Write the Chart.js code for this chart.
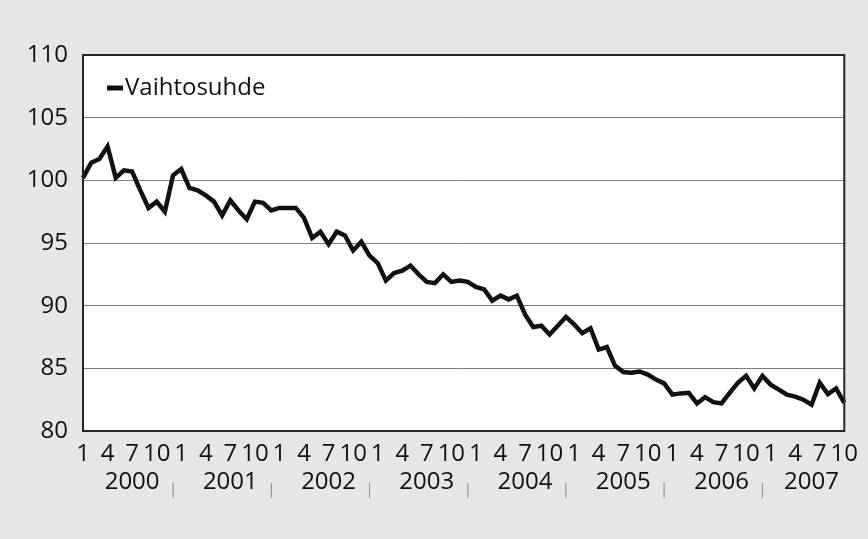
<!DOCTYPE html>
<html>
<head>
<meta charset="utf-8">
<script src="https://cdn.jsdelivr.net/npm/chart.js@4.4.1/dist/chart.umd.min.js"></script>
<style>
  html, body { margin: 0; padding: 0; background: #e6e6e6; }
  #wrap { width: 868px; height: 539px; position: relative; }
</style>
</head>
<body>
<div id="wrap"><canvas id="c" width="868" height="539"></canvas></div>
<script>
// ---- Data (monthly, Jan 2000 .. Oct 2007) ----
const years = [2000, 2001, 2002, 2003, 2004, 2005, 2006, 2007];
const monthTickLabels = { 0: '1', 3: '4', 6: '7', 9: '10' };
const seriesName = 'Vaihtosuhde';
const vaihtosuhde = [
  100.2, 101.4, 101.7, 102.7, 100.2, 100.8, 100.7, 99.2, 97.8, 98.3, 97.5, 100.4,   // 2000
  100.9, 99.4, 99.2, 98.8, 98.3, 97.2, 98.4, 97.6, 96.9, 98.3, 98.2, 97.6,          // 2001
  97.8, 97.8, 97.8, 97.0, 95.4, 95.9, 94.9, 95.9, 95.6, 94.4, 95.1, 94.0,           // 2002
  93.4, 92.0, 92.6, 92.8, 93.2, 92.5, 91.9, 91.8, 92.5, 91.9, 92.0, 91.9,           // 2003
  91.5, 91.3, 90.4, 90.8, 90.5, 90.8, 89.3, 88.3, 88.4, 87.7, 88.4, 89.1,           // 2004
  88.5, 87.8, 88.2, 86.5, 86.7, 85.2, 84.7, 84.65, 84.75, 84.5, 84.1, 83.8,         // 2005
  82.9, 83.0, 83.05, 82.2, 82.7, 82.3, 82.2, 83.05, 83.85, 84.4, 83.4, 84.4,        // 2006
  83.7, 83.3, 82.9, 82.75, 82.5, 82.1, 83.85, 82.95, 83.4, 82.25                    // 2007 (Jan-Oct)
];
const yMin = 80, yMax = 110, yStep = 5;

// category labels "YYYY-M"
const labels = [];
years.forEach(y => { for (let m = 1; m <= 12; m++) labels.push(y + '-' + m); });
labels.length = vaihtosuhde.length;

const FONT = "'Open Sans', 'Noto Sans', 'DejaVu Sans', sans-serif";
const WEIGHT = 500;

// year label: under July for full years, middle of available months for the partial last year
function yearLabelFor(idx) {
  const yi = Math.floor(idx / 12), m = idx % 12;
  const monthsInYear = Math.min(12, labels.length - yi * 12);
  const labelMonth = monthsInYear === 12 ? 6 : Math.round((monthsInYear - 1) / 2);
  if (m === labelMonth) return String(years[yi]);
  if (m === 11 && monthsInYear === 12) return '|';
  return '';
}

const plotFrame = {
  id: 'plotFrame',
  beforeDraw(chart) {
    const { ctx, chartArea: a } = chart;
    ctx.save();
    ctx.fillStyle = '#ffffff';
    ctx.fillRect(a.left, a.top, a.right - a.left, a.bottom - a.top);
    ctx.restore();
  },
  afterDatasetsDraw(chart) {
    const { ctx, chartArea: a } = chart;
    ctx.save();
    ctx.strokeStyle = '#262626';
    ctx.lineWidth = 2;
    ctx.strokeRect(a.left, a.top, a.right - a.left, a.bottom - a.top);
    ctx.restore();
  }
};

// legend drawn inside the plot area, top-left
const innerLegend = {
  id: 'innerLegend',
  afterDraw(chart) {
    const { ctx, chartArea: a } = chart;
    const ds = chart.data.datasets[0];
    const cy = a.top + 33;
    const x0 = a.left + 24;
    ctx.save();
    ctx.strokeStyle = ds.borderColor;
    ctx.lineWidth = 5;
    ctx.beginPath();
    ctx.moveTo(x0, cy);
    ctx.lineTo(x0 + 16, cy);
    ctx.stroke();
    ctx.fillStyle = '#111';
    ctx.font = WEIGHT + ' 24px ' + FONT;
    ctx.textAlign = 'left';
    ctx.textBaseline = 'middle';
    ctx.fillText(ds.label, x0 + 18, cy);
    ctx.restore();
  }
};

new Chart(document.getElementById('c'), {
  type: 'line',
  data: {
    labels: labels,
    datasets: [{
      label: seriesName,
      data: vaihtosuhde,
      borderColor: '#111111',
      backgroundColor: '#111111',
      borderWidth: 4.5,
      pointRadius: 0,
      tension: 0,
      xAxisID: 'x',
      yAxisID: 'y'
    }]
  },
  options: {
    responsive: false,
    animation: false,
    events: [],
    layout: { padding: { left: 0, right: 17, top: 55, bottom: 30 } },
    plugins: {
      tooltip: { enabled: false },
      legend: { display: false }
    },
    scales: {
      x: {
        type: 'category',
        position: 'bottom',
        offset: false,
        grid: { display: false, drawTicks: false },
        border: { display: false },
        ticks: {
          autoSkip: false,
          maxRotation: 0,
          minRotation: 0,
          padding: 10,
          color: '#111',
          font: { family: FONT, size: 24, weight: WEIGHT, lineHeight: 1.1 },
          callback: (v, i) => monthTickLabels[i % 12] !== undefined ? monthTickLabels[i % 12] : ''
        },
        afterFit: s => { s.height = 38; }
      },
      x2: {
        type: 'category',
        position: 'bottom',
        offset: false,
        grid: { display: false, drawTicks: false },
        border: { display: false },
        ticks: {
          autoSkip: false,
          maxRotation: 0,
          minRotation: 0,
          padding: 0,
          color: c => (yearLabelFor(c.index) === '|' ? '#888' : '#111'),
          font: c => (yearLabelFor(c.index) === '|'
            ? { family: FONT, size: 14, lineHeight: '42px' }
            : { family: FONT, size: 24, weight: WEIGHT, lineHeight: 1.1 }),
          callback: (v, i) => yearLabelFor(i)
        },
        afterFit: s => { s.height = 40; }
      },
      y: {
        min: yMin,
        max: yMax,
        grid: { color: '#7d7d7d', lineWidth: 1, drawTicks: false },
        border: { display: false },
        ticks: {
          stepSize: yStep,
          padding: 15,
          color: '#111',
          font: { family: FONT, size: 24, weight: WEIGHT }
        },
        afterFit: s => { s.width = 83; }
      }
    }
  },
  plugins: [plotFrame, innerLegend]
});
</script>
</body>
</html>
